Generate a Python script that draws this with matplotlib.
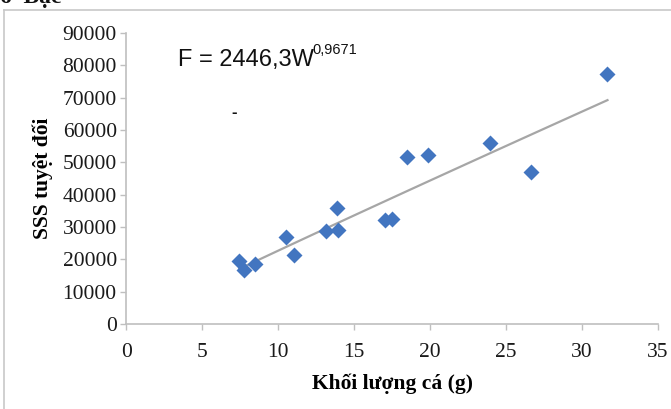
import matplotlib.pyplot as plt
import numpy as np
from matplotlib.lines import Line2D

# fish weight (g) vs absolute SSS
weight_g = [7.44, 7.75, 8.47, 10.52, 11.04, 13.15, 13.96, 13.86,
            17.04, 17.48, 18.47, 19.86, 23.92, 26.64, 31.69]
sss_abs = [19500, 16700, 18500, 26800, 21200, 28800, 29000, 35800,
           32100, 32300, 51600, 52300, 56000, 46900, 77400]

# power trendline F = a * W^b
fit_a = 2446.3
fit_b = 0.9671

x_ticks = [0, 5, 10, 15, 20, 25, 30, 35]
y_ticks = [0, 10000, 20000, 30000, 40000, 50000, 60000, 70000, 80000, 90000]

serif = "Liberation Serif"
axis_grey = "#BFBFBF"

fig = plt.figure(figsize=(6.71, 4.09), dpi=100)
ax = fig.add_axes([0.1885, 0.2078, 0.7917, 0.712])

w = np.linspace(min(weight_g), max(weight_g), 100)
ax.plot(w, fit_a * w ** fit_b, color="#A6A6A6", lw=1.6, zorder=2)
ax.plot(weight_g, sss_abs, "D", color="#4275C0", ms=7.8, mec="none", zorder=3)

ax.set_xlim(0, 35)
ax.set_ylim(0, 90000)
ax.set_xticks(x_ticks)
ax.set_yticks(y_ticks)
ax.set_xticklabels([str(t) for t in x_ticks], fontfamily=serif, fontsize=15.5)
ax.set_yticklabels([str(t) for t in y_ticks], fontfamily=serif, fontsize=15.5)
ax.tick_params(axis="both", color=axis_grey, length=4, width=1, labelcolor="#1a1a1a")
ax.tick_params(axis="y", pad=3)
ax.tick_params(axis="x", pad=10)

for side in ["top", "right"]:
    ax.spines[side].set_visible(False)
for side in ["left", "bottom"]:
    ax.spines[side].set_color(axis_grey)
    ax.spines[side].set_linewidth(1.2)

ax.set_xlabel("Khối lượng cá (g)", fontfamily=serif, fontsize=15.5, fontweight="bold",
              labelpad=8)
ax.set_ylabel("SSS tuyệt đối", fontfamily=serif, fontsize=15.5, fontweight="bold",
              labelpad=7)

# equation label
fig.text(0.266, 0.838, "F = 2446,3W", fontfamily="Liberation Sans", fontsize=17,
         color="#111111", va="baseline")
fig.text(0.466, 0.868, "0,9671", fontfamily="Liberation Sans", fontsize=10.5,
         color="#111111", va="baseline")
fig.text(0.345, 0.726, "-", fontfamily="Liberation Sans", fontsize=12, fontweight="bold",
         color="#111111", va="center")

# clipped text from the page above and the chart border
fig.text(0.0, 1.005, "6  Bạc", fontfamily=serif, fontsize=17, fontweight="bold",
         color="#111111", va="center", ha="left")
fig.add_artist(Line2D([0.006, 1.0], [0.976, 0.976], color="#C8C8C8", lw=1.2))
fig.add_artist(Line2D([0.006, 0.006], [0.0, 0.976], color="#C8C8C8", lw=1.2))

fig.savefig("out.png", dpi=100)
